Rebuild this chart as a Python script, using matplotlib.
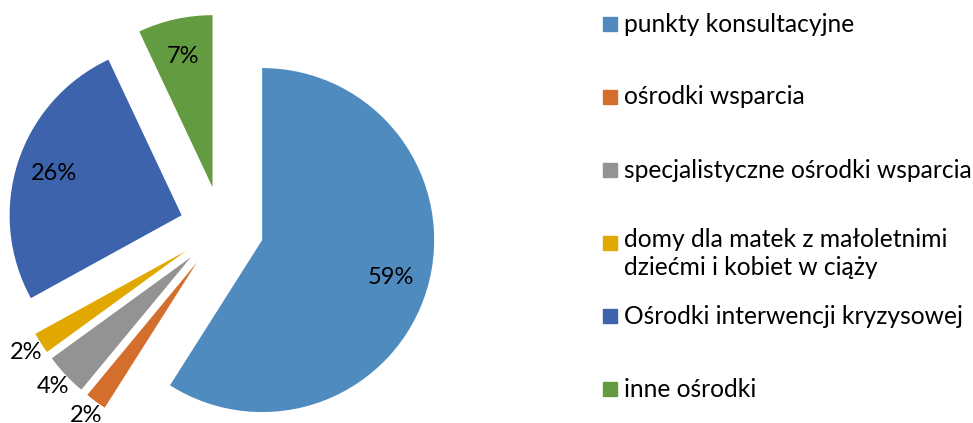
import numpy as np
import matplotlib.pyplot as plt
from matplotlib.patches import Rectangle

categories = ['punkty konsultacyjne',
              'ośrodki wsparcia',
              'specjalistyczne ośrodki wsparcia',
              'domy dla matek z małoletnimi\ndziećmi i kobiet w ciąży',
              'Ośrodki interwencji kryzysowej',
              'inne ośrodki']
shares = [59, 2, 4, 2, 26, 7]
colors = ['#508BBF', '#D46E2C', '#939393', '#E1A800', '#3D63AC', '#629B40']

plt.rcParams['font.family'] = ['Lato', 'DejaVu Sans']

W, H = 973, 423
fig = plt.figure(figsize=(W / 100, H / 100), dpi=100)
ax = fig.add_axes([0, 0, 1, 1])

# pie centre in pixels and radius in pixels
cx, cy, rad = 221.7, 228.3, 172.0
expl = 0.245

wedges, texts, autotexts = ax.pie(
    shares, colors=colors, startangle=90, counterclock=False,
    explode=[expl] * len(shares), radius=1.0,
    autopct=lambda p: '%d%%' % round(p), pctdistance=0.78,
    textprops={'fontsize': 17, 'color': 'black'},
    wedgeprops={'linewidth': 0})

ax.set_xlim(-cx / rad, (W - cx) / rad)
ax.set_ylim(-(H - cy) / rad, cy / rad)
ax.set_aspect('equal')
ax.axis('off')

# small slices get their labels outside
for w, t, v in zip(wedges, autotexts, shares):
    if v <= 4:
        th = np.deg2rad((w.theta1 + w.theta2) / 2)
        d = expl + 1.1
        t.set_position((d * np.cos(th), d * np.sin(th)))

# legend drawn by hand, as in the original layout
leg_y = [24, 97, 170, 243, 316, 389]
for name, col, y in zip(categories, colors, leg_y):
    fig.patches.append(Rectangle((603 / W, 1 - (y + 7) / H), 14 / W, 14 / H,
                                 transform=fig.transFigure, color=col))
    if '\n' in name:
        fig.text(624 / W, 1 - (y - 15) / H, name, fontsize=17.7, va='top',
                 ha='left', linespacing=1.25)
    else:
        fig.text(624 / W, 1 - y / H, name, fontsize=17.7, va='center', ha='left')

fig.savefig('out.png', dpi=100)
